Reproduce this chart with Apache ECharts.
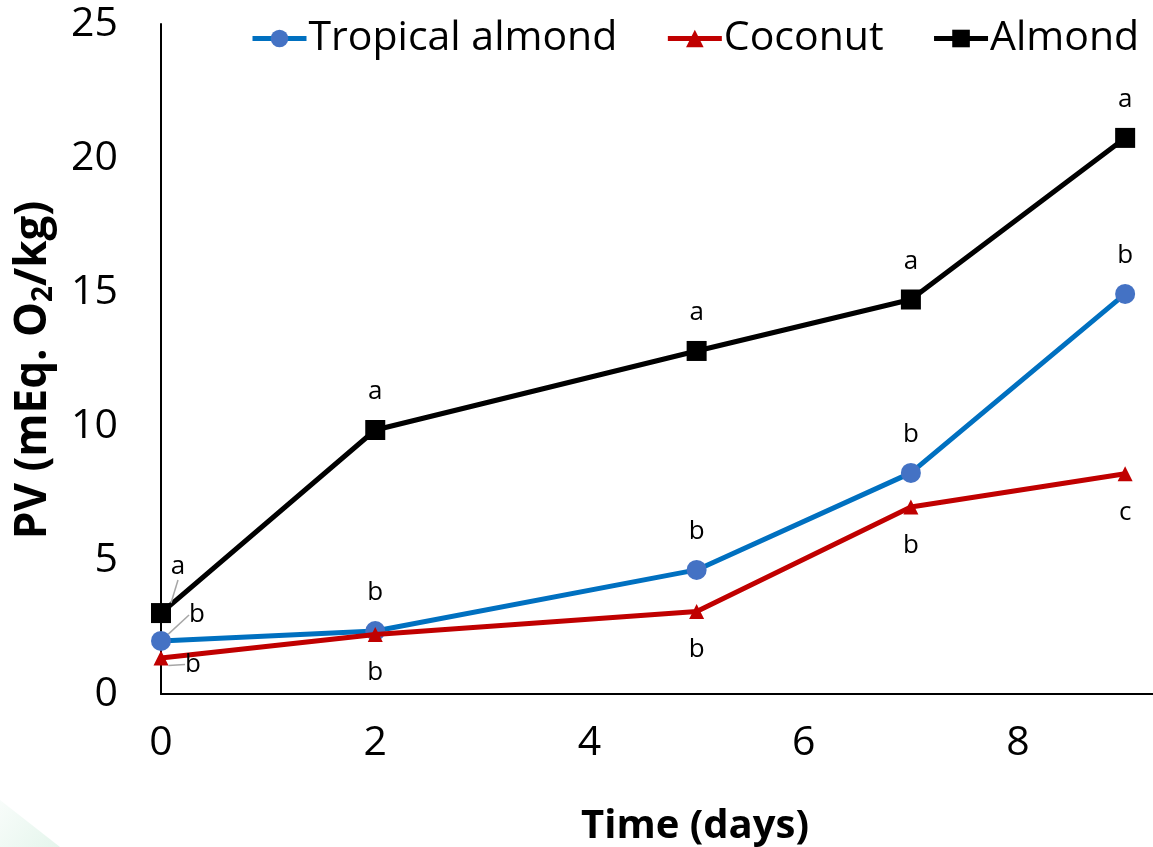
<!DOCTYPE html>
<html>
<head>
<meta charset="utf-8">
<script src="https://cdn.jsdelivr.net/npm/echarts@6/dist/echarts.min.js"></script>
<style>
  html, body { margin: 0; padding: 0; background: #ffffff; }
  #chart { width: 1153px; height: 847px; }
</style>
</head>
<body>
<div id="chart"></div>
<script>
// Storage time (days)
const days = [0, 2, 5, 7, 9];

// Peroxide value, mEq O2/kg
const tropicalAlmond = [1.98, 2.35, 4.63, 8.25, 14.93];
const coconut = [1.34, 2.22, 3.08, 6.98, 8.22];
const almond = [3.02, 9.85, 12.8, 14.72, 20.75];

// Significance letters per point
const tropicalLetters = ['b', 'b', 'b', 'b', 'b'];
const coconutLetters = ['b', 'b', 'b', 'b', 'c'];
const almondLetters = ['a', 'a', 'a', 'a', 'a'];

const seriesNames = ['Tropical almond', 'Coconut', 'Almond'];

const FONT = '"Open Sans", "Noto Sans", sans-serif';

function points(values, letters) {
  return days.map((d, i) => ({
    value: [d, values[i]],
    letter: letters[i],
    labelLine: { show: i === 0 }
  }));
}

// Nudges for the crowded first-day labels
const firstLabelShift = {
  0: { dx: 36, dy: 12 },
  1: { dx: 32, dy: -32 },
  2: { dx: 17, dy: -8 }
};

const letterLabel = (position, distance) => ({
  show: true,
  position: position,
  distance: distance,
  fontFamily: FONT,
  fontSize: 26,
  color: '#000000',
  formatter: p => p.data.letter
});

const guideLine = {
  lineStyle: { color: '#a6a6a6', width: 1.5 }
};

const chart = echarts.init(document.getElementById('chart'), null, { renderer: 'canvas' });

chart.setOption({
  backgroundColor: '#ffffff',
  animation: false,
  textStyle: { fontFamily: FONT },
  graphic: [{
    type: 'polygon',
    silent: true,
    z: -10,
    shape: { points: [[0, 800], [60, 847], [0, 847]] },
    style: {
      fill: new echarts.graphic.LinearGradient(0, 0, 1, 1, [
        { offset: 0, color: 'rgba(220, 242, 230, 0.2)' },
        { offset: 1, color: 'rgba(220, 242, 230, 0.75)' }
      ])
    }
  }],
  legend: {
    data: seriesNames,
    left: 245,
    top: 13,
    itemWidth: 54,
    itemHeight: 22,
    itemGap: 48,
    lineStyle: { width: 5 },
    textStyle: { fontFamily: FONT, fontSize: 41, color: '#000000', padding: [0, 0, 0, -3] }
  },
  grid: {
    left: 161,
    right: 0,
    top: 24,
    bottom: 153,
    containLabel: false,
    outerBoundsMode: 'none'
  },
  xAxis: {
    type: 'value',
    min: 0,
    max: 9.26,
    interval: 2,
    name: 'Time (days)',
    nameLocation: 'middle',
    nameGap: 113,
    nameTextStyle: {
      fontFamily: FONT,
      fontSize: 40,
      fontWeight: 'bold',
      color: '#000000',
      padding: [0, 0, 0, 76]
    },
    axisLine: { show: true, onZero: false, lineStyle: { color: '#000000', width: 2 } },
    axisTick: { show: false },
    splitLine: { show: false },
    axisLabel: {
      margin: 29,
      showMaxLabel: false,
      fontFamily: FONT,
      fontSize: 41,
      color: '#000000'
    }
  },
  yAxis: {
    type: 'value',
    min: 0,
    max: 25,
    interval: 5,
    name: '{m|PV (mEq. O}{s|2}{m|/kg)}',
    nameLocation: 'middle',
    nameGap: 103,
    nameRotate: 90,
    nameTextStyle: {
      padding: [0, 22, 0, 0],
      rich: {
        m: { fontFamily: FONT, fontSize: 44, fontWeight: 'bold', color: '#000000', lineHeight: 50 },
        s: { fontFamily: FONT, fontSize: 28, fontWeight: 'bold', color: '#000000', lineHeight: 30, verticalAlign: 'bottom' }
      }
    },
    axisLine: { show: true, lineStyle: { color: '#000000', width: 2 } },
    axisTick: { show: false },
    splitLine: { show: false },
    axisLabel: {
      margin: 43,
      fontFamily: FONT,
      fontSize: 41,
      color: '#000000'
    }
  },
  series: [
    {
      name: seriesNames[0],
      type: 'line',
      data: points(tropicalAlmond, tropicalLetters),
      symbol: 'circle',
      symbolSize: 20,
      lineStyle: { color: '#0070C0', width: 5 },
      itemStyle: { color: '#4472C4' },
      label: letterLabel('top', 15),
      labelLine: guideLine,
      labelLayout: p => (p.dataIndex === 0 ? firstLabelShift[0] : {}),
      z: 2
    },
    {
      name: seriesNames[1],
      type: 'line',
      data: points(coconut, coconutLetters),
      symbol: 'triangle',
      symbolSize: 15,
      lineStyle: { color: '#C00000', width: 5 },
      itemStyle: { color: '#C00000' },
      label: letterLabel('bottom', 18),
      labelLine: guideLine,
      labelLayout: p => (p.dataIndex === 0 ? firstLabelShift[1] : {}),
      z: 3
    },
    {
      name: seriesNames[2],
      type: 'line',
      data: points(almond, almondLetters),
      symbol: 'rect',
      symbolSize: 20,
      lineStyle: { color: '#000000', width: 5 },
      itemStyle: { color: '#000000' },
      label: letterLabel('top', 15),
      labelLine: guideLine,
      labelLayout: p => (p.dataIndex === 0 ? firstLabelShift[2] : {}),
      z: 4
    }
  ]
});
</script>
</body>
</html>
